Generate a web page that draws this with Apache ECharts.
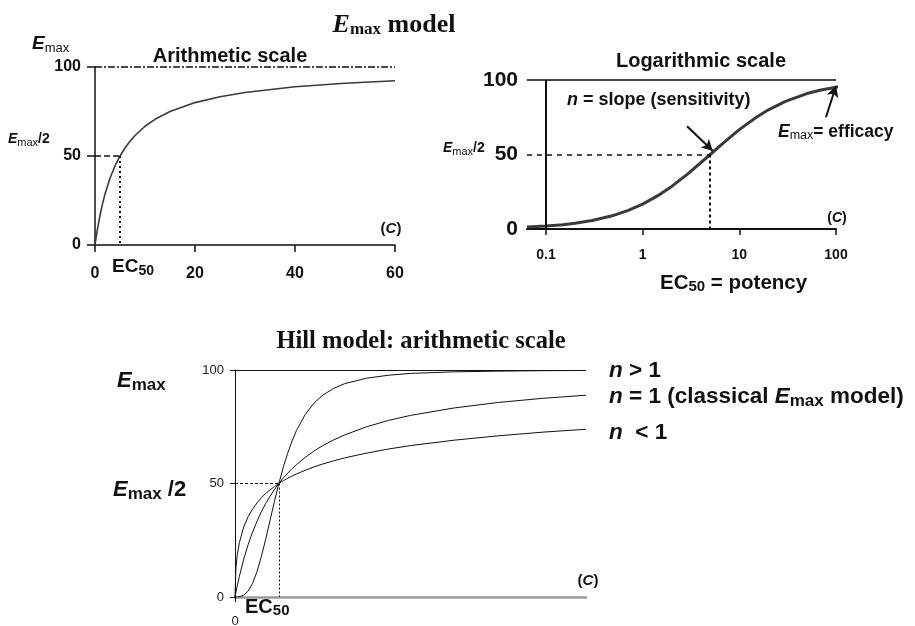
<!DOCTYPE html>
<html><head><meta charset="utf-8">
<script src="https://cdn.jsdelivr.net/npm/echarts@6/dist/echarts.min.js"></script>
<style>html,body{margin:0;padding:0;background:#fff}#c{width:915px;height:626px}</style>
</head><body><div id="c"></div>
<script>
// ---- Data ----
// Panel A: Emax model, arithmetic scale
const arithC = [0, 0.2, 0.5, 1, 1.5, 2, 3, 4, 5, 6, 7, 8, 10, 12, 15, 20, 25, 30, 40, 50, 60];
const arithE = [0, 3.8, 9.1, 16.7, 23.1, 28.6, 37.5, 44.4, 50, 54.5, 58.3, 61.5, 66.7, 70.6, 75, 80, 83.3, 85.7, 88.9, 90.9, 92.3];
const arithEC50 = 5;
// Panel B: Emax model, logarithmic scale
const logC = [0.0637, 0.1, 0.15, 0.2, 0.3, 0.5, 0.7, 1, 1.5, 2, 3, 5, 7, 10, 15, 20, 30, 50, 70, 100, 115];
const logE = [1.3, 2.0, 2.9, 3.8, 5.7, 9.1, 12.3, 16.7, 23.1, 28.6, 37.5, 50, 58.3, 66.7, 75, 80, 85.7, 90.9, 93.3, 95.2, 95.8];
const logXTicks = [0.1, 1, 10, 100];
const logEC50 = 5;
// Panel C: Hill model
const hillC = [0, 0.02, 0.05, 0.1, 0.2, 0.3, 0.4, 0.5, 0.6, 0.7, 0.8, 0.9, 1, 1.1, 1.2, 1.3, 1.4, 1.6, 1.8, 2, 2.25, 2.5, 3, 3.5, 4, 5, 6, 7, 8];
const hillNgt1 = [0, 0, 0.01, 0.1, 0.8, 2.6, 6.0, 11.1, 17.8, 25.5, 33.9, 42.2, 50, 57.1, 63.3, 68.7, 73.3, 80.4, 85.4, 88.9, 91.9, 94.0, 96.4, 97.7, 98.5, 99.2, 99.5, 99.7, 99.8];
const hillNeq1 = [0, 2.0, 4.8, 9.1, 16.7, 23.1, 28.6, 33.3, 37.5, 41.2, 44.4, 47.4, 50, 52.4, 54.5, 56.5, 58.3, 61.5, 64.3, 66.7, 69.2, 71.4, 75, 77.8, 80, 83.3, 85.7, 87.5, 88.9];
const hillNlt1 = [0, 12.4, 18.3, 24.0, 30.9, 35.4, 38.7, 41.4, 43.7, 45.6, 47.2, 48.7, 50, 51.2, 52.3, 53.3, 54.2, 55.8, 57.3, 58.6, 60.0, 61.3, 63.4, 65.2, 66.7, 69.1, 71.0, 72.6, 73.9];
const hillEC50 = 1;

const zip = (xs, ys) => xs.map((x, i) => [x, ys[i]]);
const SANS = '"Liberation Sans", Arial, sans-serif';
const SERIF = '"Liberation Serif", "Times New Roman", serif';

const chart = echarts.init(document.getElementById('c'));

function txt(x, y, text, rich, align, vAlign) {
  return { type: 'text', x: x, y: y, silent: true,
    style: { text: text, rich: rich, align: align || 'left', verticalAlign: vAlign || 'middle', fill: '#111', font: 'bold 16px ' + SANS } };
}
function richSet(base, sub, fam, bold, subBold, subPad) {
  fam = fam || SANS;
  const w = bold === false ? 'normal' : 'bold';
  return {
    b: { fontFamily: fam, fontSize: base, fontWeight: w, color: '#111' },
    i: { fontFamily: fam, fontSize: base, fontWeight: w, fontStyle: 'italic', color: '#111' },
    s: { fontFamily: fam, fontSize: sub, fontWeight: subBold ? 'bold' : 'normal', color: '#111', padding: [subPad || 0, 0, 0, 0] }
  };
}

const ml = (data) => ({ silent: true, symbol: ['none', 'none'], label: { show: false }, animation: false, data: data });

const option = {
  animation: false,
  backgroundColor: '#fff',
  grid: [
    { left: 95, top: 67, width: 300, height: 178, outerBoundsMode: 'none' },
    { left: 527, top: 80, width: 309, height: 149, outerBoundsMode: 'none' },
    { left: 235, top: 370, width: 351, height: 227, outerBoundsMode: 'none' }
  ],
  xAxis: [
    { gridIndex: 0, type: 'value', min: 0, max: 60, interval: 20,
      axisLine: { lineStyle: { color: '#111', width: 1.5 } },
      axisTick: { length: 7, lineStyle: { color: '#111', width: 1.5 } },
      splitLine: { show: false },
      axisLabel: { margin: 21, color: '#111', fontFamily: SANS, fontWeight: 'bold', fontSize: 16 } },
    { gridIndex: 1, type: 'log', logBase: 10, min: 0.0637, max: 100,
      axisLine: { lineStyle: { color: '#111', width: 2 } },
      axisTick: { length: 6, customValues: logXTicks, lineStyle: { color: '#111', width: 1.5 } },
      minorTick: { show: false },
      splitLine: { show: false },
      axisLabel: { margin: 19, customValues: logXTicks, color: '#111', fontFamily: SANS, fontWeight: 'bold', fontSize: 14 } },
    { gridIndex: 2, type: 'value', min: 0, max: 8,
      axisLine: { lineStyle: { color: '#999', width: 2.5 } },
      axisTick: { length: 5, customValues: [0], lineStyle: { color: '#111', width: 1 } },
      splitLine: { show: false },
      axisLabel: { margin: 18, customValues: [0], color: '#222', fontFamily: SANS, fontSize: 13 } }
  ],
  yAxis: [
    { gridIndex: 0, type: 'value', min: 0, max: 100, interval: 50,
      axisLine: { show: true, lineStyle: { color: '#111', width: 1.5 } },
      axisTick: { show: true, length: 8, lineStyle: { color: '#111', width: 1.5 } },
      splitLine: { show: false },
      axisLabel: { margin: 14, color: '#111', fontFamily: SANS, fontWeight: 'bold', fontSize: 16 } },
    { gridIndex: 1, type: 'value', min: 0, max: 100, interval: 50,
      axisLine: { show: false },
      axisTick: { show: false },
      splitLine: { show: false },
      axisLabel: { margin: 9, color: '#111', fontFamily: SANS, fontWeight: 'bold', fontSize: 21 } },
    { gridIndex: 2, type: 'value', min: 0, max: 100, interval: 50,
      axisLine: { show: true, lineStyle: { color: '#111', width: 1 } },
      axisTick: { show: true, length: 5, lineStyle: { color: '#111', width: 1 } },
      splitLine: { show: false },
      axisLabel: { margin: 11, color: '#222', fontFamily: SANS, fontSize: 13 } }
  ],
  series: [
    { type: 'line', xAxisIndex: 0, yAxisIndex: 0, data: zip(arithC, arithE), showSymbol: false, smooth: false,
      lineStyle: { color: '#3a3a3a', width: 1.6, join: 'round' },
      markLine: ml([
        { yAxis: 100, lineStyle: { color: '#111', width: 1.5, type: [7, 2, 2, 2] } },
        [{ coord: [0, 50], lineStyle: { color: '#111', width: 1.5, type: [6, 3] } }, { coord: [arithEC50, 50] }],
        [{ coord: [arithEC50, 50], lineStyle: { color: '#111', width: 2, type: [2, 3] } }, { coord: [arithEC50, 0] }]
      ]) },
    { type: 'line', xAxisIndex: 1, yAxisIndex: 1, data: zip(logC, logE), showSymbol: false, smooth: false, clip: false,
      lineStyle: { color: '#3a3a3a', width: 3, join: 'round' },
      markLine: ml([
        { yAxis: 100, lineStyle: { color: '#444', width: 2, type: 'solid' } },
        { xAxis: logXTicks[0], lineStyle: { color: '#111', width: 2, type: 'solid' } },
        [{ coord: [logC[0], 50], lineStyle: { color: '#111', width: 1.5, type: [5, 5] } }, { coord: [logEC50, 50] }],
        [{ coord: [logEC50, 50], lineStyle: { color: '#111', width: 2, type: [3, 3] } }, { coord: [logEC50, 0] }],
        [{ coord: [2.88, 69], symbol: 'none', lineStyle: { color: '#111', width: 2, type: 'solid' } }, { coord: [5.3, 52.5], symbol: 'arrow', symbolSize: [9, 11] }],
        [{ coord: [78.7, 75], symbol: 'none', lineStyle: { color: '#111', width: 2, type: 'solid' } }, { coord: [100, 96], symbol: 'arrow', symbolSize: [9, 11] }]
      ]) },
    { type: 'line', xAxisIndex: 2, yAxisIndex: 2, data: zip(hillC, hillNgt1), showSymbol: false, smooth: false,
      lineStyle: { color: '#111', width: 1, join: 'round' },
      markLine: ml([
        { yAxis: 100, lineStyle: { color: '#111', width: 1, type: 'solid' } },
        [{ coord: [0, 50], lineStyle: { color: '#111', width: 1, type: [3, 2] } }, { coord: [hillEC50, 50] }],
        [{ coord: [hillEC50, 50], lineStyle: { color: '#111', width: 1, type: [2, 2] } }, { coord: [hillEC50, 0] }]
      ]) },
    { type: 'line', xAxisIndex: 2, yAxisIndex: 2, data: zip(hillC, hillNeq1), showSymbol: false, smooth: false,
      lineStyle: { color: '#111', width: 1, join: 'round' } },
    { type: 'line', xAxisIndex: 2, yAxisIndex: 2, data: zip(hillC, hillNlt1), showSymbol: false, smooth: false,
      lineStyle: { color: '#111', width: 1, join: 'round' } }
  ],
  graphic: [
    txt(394, 25, '{i|E}{s|max}{b| model}', richSet(26, 17, SERIF, true, true, 10), 'center'),
    txt(32, 44, '{i|E}{s|max}', richSet(19, 13, SANS, true, false, 9)),
    txt(230, 56, '{b|Arithmetic scale}', richSet(20, 12), 'center'),
    txt(8, 139, '{i|E}{s|max}{b|/2}', richSet(14, 11, SANS, true, false, 7)),
    txt(391, 229, '{b|(}{i|C}{b|)}', richSet(15, 11), 'center'),
    txt(112, 267, '{b|EC}{s|50}', richSet(19, 14, SANS, true, true, 8)),
    txt(701, 61, '{b|Logarithmic scale}', richSet(20, 12), 'center'),
    txt(443, 148, '{i|E}{s|max}{b|/2}', richSet(14, 11, SANS, true, false, 7)),
    txt(567, 100, '{i|n}{b| = slope (sensitivity)}', richSet(18, 12)),
    txt(778, 132, '{i|E}{s|max}{b|= efficacy}', richSet(17.5, 12.5, SANS, true, false, 8)),
    txt(837, 218, '{b|(}{i|C}{b|)}', richSet(14, 11), 'center'),
    txt(660, 283, '{b|EC}{s|50}{b| = potency}', richSet(20.5, 15, SANS, true, true, 8)),
    txt(421, 342, '{b|Hill model: arithmetic scale}', richSet(24.5, 14, SERIF), 'center'),
    txt(117, 381, '{i|E}{s|max}', richSet(22, 17, SANS, true, true, 9)),
    txt(113, 490, '{i|E}{s|max}{b| /2}', richSet(22, 17, SANS, true, true, 9)),
    txt(609, 371, '{i|n}{b| > 1}', richSet(22.5, 15)),
    txt(609, 397, '{i|n}{b| = 1 (classical }{i|E}{s|max}{b| model)}', richSet(22.5, 17, SANS, true, true, 9)),
    txt(609, 433, '{i|n}{b|  < 1}', richSet(22.5, 15)),
    txt(588, 581, '{b|(}{i|C}{b|)}', richSet(15, 11), 'center'),
    txt(245, 607, '{b|EC}{s|50}', richSet(20, 15, SANS, true, true, 8))
  ]
};
chart.setOption(option);
</script>
</body></html>
